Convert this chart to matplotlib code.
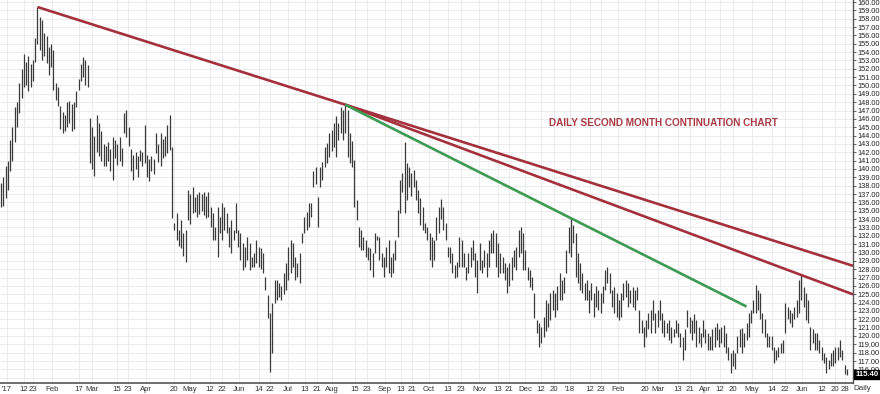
import numpy as np
import matplotlib
matplotlib.use('Agg')
import matplotlib.pyplot as plt
import matplotlib.transforms as mtransforms

# daily bar highs / lows, one per trading day
highs = [
    138.3, 139.0, 140.4, 141.0, 143.5, 145.0, 147.4, 148.0, 150.3, 152.0,
    153.8, 152.8, 153.5, 152.6, 153.0, 155.7, 159.4, 158.2, 157.8, 156.3,
    155.9, 154.6, 155.0, 154.3, 150.3, 149.8, 147.5, 146.8, 146.5, 148.0,
    148.2, 147.8, 148.0, 149.3, 150.8, 152.6, 153.4, 153.0, 152.5, 146.1,
    145.0, 144.0, 146.5, 145.5, 144.5, 143.0, 142.8, 143.2, 142.4, 143.8,
    143.5, 143.0, 143.8, 142.5, 146.7, 147.1, 145.0, 142.4, 141.7, 142.0,
    141.6, 142.3, 142.0, 145.3, 141.7, 141.2, 141.6, 141.2, 144.3, 143.0,
    144.3, 143.6, 143.9, 145.3, 146.5, 142.6, 133.5, 134.7, 132.7, 133.9,
    132.3, 132.7, 137.5, 137.0, 137.8, 136.7, 137.0, 137.2, 137.0, 137.2,
    136.8, 137.2, 135.5, 134.7, 133.1, 135.5, 134.3, 135.9, 135.5, 134.7,
    133.1, 133.9, 132.7, 135.9, 132.7, 132.3, 131.1, 130.7, 131.9, 131.1,
    129.5, 129.9, 131.5, 130.7, 130.5, 129.9, 127.1, 124.9, 122.8, 124.0,
    126.7, 126.7, 126.3, 126.0, 127.5, 128.7, 130.7, 131.5, 131.1, 129.5,
    128.7, 129.9, 132.3, 134.3, 134.8, 135.9, 135.9, 139.8, 140.2, 136.7,
    140.2, 140.8, 142.6, 143.1, 144.3, 144.7, 145.5, 146.3, 145.5, 147.4,
    147.1, 147.7, 147.1, 144.3, 143.3, 141.1, 136.3, 133.1, 132.7, 131.9,
    131.5, 130.7, 130.5, 129.9, 132.3, 132.0, 131.9, 129.9, 129.5, 130.7,
    131.5, 129.5, 129.9, 131.5, 135.1, 138.7, 139.5, 143.2, 140.7, 140.2,
    139.5, 139.9, 138.7, 137.5, 136.5, 135.5, 133.5, 133.1, 132.3, 131.9,
    131.5, 134.3, 135.5, 136.4, 135.5, 133.5, 130.7, 130.7, 129.9, 128.5,
    128.9, 131.9, 131.5, 129.9, 128.3, 129.9, 130.7, 131.5, 129.9, 129.1,
    131.1, 129.1, 130.3, 129.9, 131.5, 132.3, 132.7, 132.3, 131.1, 129.9,
    129.5, 128.7, 128.3, 128.7, 129.5, 130.3, 130.7, 132.7, 133.1, 132.3,
    130.3, 128.3, 127.9, 127.1, 125.2, 121.9, 121.6, 121.1, 122.3, 124.3,
    124.0, 125.2, 125.5, 125.2, 126.0, 127.5, 126.7, 127.1, 130.3, 133.1,
    134.1, 133.3, 132.3, 129.9, 128.7, 127.5, 126.3, 126.7, 125.5, 126.3,
    125.2, 126.0, 125.5, 125.2, 126.0, 127.9, 128.3, 127.5, 125.5, 125.9,
    125.2, 124.3, 125.2, 126.3, 126.7, 126.3, 125.5, 125.9, 125.5, 125.9,
    123.1, 121.9, 121.1, 121.9, 122.8, 123.1, 124.3, 122.8, 123.1, 124.3,
    122.8, 121.9, 121.6, 121.9, 121.1, 120.8, 121.9, 121.5, 120.4, 119.9,
    120.8, 123.1, 122.3, 121.9, 122.6, 121.9, 121.1, 120.4, 121.9, 120.8,
    120.4, 120.0, 120.8, 121.1, 121.6, 120.8, 121.1, 121.3, 120.4, 118.7,
    118.0, 118.3, 118.0, 120.0, 120.8, 121.0, 120.4, 121.5, 122.8, 123.1,
    124.3, 126.1, 125.5, 125.2, 122.8, 122.0, 120.4, 120.0, 120.0, 118.7,
    118.3, 118.7, 119.2, 119.5, 124.0, 123.5, 123.1, 122.8, 123.5, 124.3,
    126.7, 127.3, 125.9, 125.2, 124.3, 121.1, 120.8, 120.4, 120.4, 119.5,
    118.7, 118.0, 117.5, 117.1, 118.0, 118.3, 118.7, 118.7, 119.5, 118.3,
    116.5, 116.0,
]

lows = [
    135.4, 135.6, 136.5, 137.5, 139.8, 141.0, 143.2, 145.0, 146.7, 148.5,
    149.8, 150.0, 149.4, 149.8, 150.5, 152.8, 155.0, 154.3, 153.1, 153.5,
    152.7, 151.3, 152.2, 149.5, 148.3, 147.5, 144.8, 144.3, 144.5, 145.0,
    145.5, 144.6, 144.8, 147.4, 149.5, 150.5, 151.0, 150.0, 149.8, 140.7,
    140.0, 139.2, 142.0, 141.5, 141.0, 140.3, 140.3, 141.0, 139.8, 138.7,
    141.3, 140.5, 141.0, 140.3, 144.3, 143.8, 142.8, 139.8, 138.7, 140.0,
    139.0, 141.0, 140.3, 140.7, 139.0, 138.6, 139.8, 139.4, 141.9, 140.8,
    140.3, 141.3, 141.5, 141.9, 142.3, 134.1, 132.7, 131.5, 130.8, 130.5,
    129.6, 128.9, 133.9, 133.4, 134.7, 134.9, 134.3, 134.6, 135.0, 134.5,
    134.1, 134.3, 133.1, 131.5, 131.5, 129.5, 132.3, 131.5, 132.7, 132.3,
    130.7, 129.9, 131.5, 132.3, 130.7, 129.1, 127.9, 128.3, 129.1, 127.9,
    128.3, 128.3, 128.7, 128.3, 128.0, 127.5, 125.5, 122.2, 115.7, 118.0,
    124.0, 124.3, 124.7, 124.3, 125.0, 125.5, 126.7, 127.5, 128.3, 126.7,
    127.1, 126.3, 131.1, 132.3, 132.7, 133.1, 134.3, 137.8, 138.2, 133.1,
    137.8, 138.7, 140.2, 140.7, 141.4, 142.2, 142.6, 141.4, 143.5, 144.3,
    143.5, 144.3, 141.4, 140.7, 140.2, 135.5, 133.9, 130.7, 130.3, 130.3,
    129.5, 129.1, 127.9, 127.1, 129.9, 131.5, 129.1, 128.3, 127.1, 128.3,
    127.5, 127.1, 127.5, 129.1, 131.9, 134.7, 137.3, 134.7, 136.3, 137.8,
    136.8, 137.8, 136.3, 134.7, 133.3, 132.7, 132.3, 131.5, 129.1, 128.3,
    129.1, 131.5, 132.3, 134.0, 132.7, 131.5, 129.5, 128.7, 127.5, 126.9,
    127.1, 128.3, 128.3, 128.3, 126.7, 127.5, 128.3, 129.1, 127.1, 125.2,
    127.9, 127.5, 128.3, 127.1, 128.3, 129.9, 129.9, 128.3, 127.1, 127.5,
    127.5, 126.7, 125.2, 126.0, 126.7, 128.3, 127.9, 129.5, 129.9, 127.9,
    127.9, 126.7, 125.9, 125.5, 122.2, 120.4, 118.7, 119.1, 119.9, 120.6,
    121.1, 121.9, 123.1, 122.3, 123.1, 124.3, 124.3, 125.2, 127.5, 129.9,
    129.5, 131.1, 127.1, 126.3, 125.5, 125.2, 124.3, 124.3, 122.8, 124.3,
    122.3, 123.5, 123.1, 122.8, 124.0, 125.5, 126.3, 125.2, 123.5, 122.8,
    122.3, 121.9, 122.3, 124.3, 124.7, 123.5, 123.9, 123.5, 123.1, 124.3,
    120.4, 120.4, 118.7, 119.9, 120.8, 120.4, 121.9, 120.4, 121.1, 121.9,
    120.4, 119.9, 120.4, 119.5, 119.2, 119.9, 120.4, 119.9, 118.7, 117.1,
    118.3, 121.1, 120.4, 119.5, 120.4, 118.7, 119.2, 118.7, 119.9, 119.2,
    118.3, 118.3, 118.3, 118.7, 119.5, 118.7, 119.2, 118.7, 117.9, 117.1,
    115.6, 116.4, 116.0, 118.0, 118.7, 118.0, 118.7, 119.5, 119.9, 121.6,
    122.8, 122.8, 123.1, 122.0, 120.4, 119.9, 118.7, 118.7, 118.3, 116.8,
    117.1, 117.5, 117.9, 117.9, 120.4, 122.0, 121.6, 121.1, 122.0, 122.3,
    122.8, 124.3, 123.5, 121.9, 121.5, 118.3, 119.2, 118.3, 118.3, 118.0,
    117.1, 116.8, 115.6, 116.0, 116.4, 116.4, 116.8, 117.1, 117.5, 117.1,
    115.5, 115.3,
]

last_price = 115.40

# date labels along the bottom, placed at trading-day positions
tick_labels = ["'17", '12', '23', 'Feb', '17', 'Mar', '15', '23', 'Apr', '20',
               'May', '12', '22', 'Jun', '14', '22', 'Jul', '13', '21', 'Aug',
               '15', '23', 'Sep', '13', '21', 'Oct', '13', '23', 'Nov', '13',
               '21', 'Dec', '12', '20', "'18", '12', '23', 'Feb', '20', 'Mar',
               '13', '21', 'Apr', '12', '20', 'May', '14', '22', 'Jun', '12',
               '20', '28']
tick_days = [2.6, 10.1, 14.0, 22.4, 34.2, 39.9, 50.9, 55.7, 63.6, 75.9,
             82.9, 91.7, 96.9, 104.4, 113.2, 118.0, 125.9, 133.3, 138.6, 145.2,
             155.3, 160.5, 168.4, 175.4, 180.3, 187.7, 196.1, 201.8, 209.6, 218.0,
             222.8, 229.8, 236.8, 242.5, 249.6, 258.3, 263.2, 270.6, 282.5, 288.2,
             296.9, 302.2, 308.8, 315.4, 321.1, 329.4, 338.2, 343.9, 351.3, 360.1,
             365.8, 370.2]

# trend lines drawn through pairs of swing highs (bar indices)
trend_from = [16, 151, 151]
trend_through = [151, 351, 250]
trend_end = [None, None, 327]
trend_colors = ['#a3303c', '#a3303c', '#3c9a52']


def draw_bars(ax):
    """Draws the daily high-low bars."""
    days = np.arange(len(highs))
    ax.vlines(days, lows, highs, colors='#3a3a3a', linewidth=0.9)


def draw_trend_lines(ax, x_right):
    """Draws each trend line from its first swing high through the second one."""
    hi = np.array(highs)
    for start, through, end, color in zip(trend_from, trend_through, trend_end, trend_colors):
        slope = (hi[through] - hi[start]) / (through - start)
        stop = x_right if end is None else end
        xs = np.array([start, stop])
        ax.plot(xs, hi[start] + slope * (xs - start), color=color,
                linewidth=1.9, solid_capstyle='butt')


def main():

    plt.rcParams['font.family'] = ['Liberation Sans', 'DejaVu Sans']

    fig = plt.figure(figsize=(8.8, 3.94), dpi=100)
    ax = fig.add_axes([0.0, 0.028, 0.9693, 0.972])

    x_left, x_right = -0.44, 373.7
    ax.set_xlim(x_left, x_right)
    ax.set_ylim(114.37, 160.24)

    ax.set_yticks(np.arange(115, 161, 1.0))
    ax.set_yticklabels(['%.2f' % v for v in np.arange(115, 161, 1.0)])
    ax.yaxis.tick_right()
    ax.tick_params(axis='y', length=2, width=0.5, pad=1.5, labelsize=5.3,
                   colors='#222222')

    ax.set_xticks(tick_days)
    ax.set_xticklabels(tick_labels)
    ax.tick_params(axis='x', length=0, pad=2.5, labelsize=5.6, colors='#333333')

    ax.grid(True, color='#e8e8e8', linewidth=0.6)
    ax.set_axisbelow(True)

    for side in ['top', 'left']:
        ax.spines[side].set_visible(False)
    ax.spines['right'].set_color('#555555')
    ax.spines['bottom'].set_color('#555555')
    ax.spines['right'].set_linewidth(1.0)
    ax.spines['bottom'].set_linewidth(1.2)

    draw_bars(ax)
    draw_trend_lines(ax, x_right)

    ax.text(0.778, 0.679, 'DAILY SECOND MONTH CONTINUATION CHART',
            transform=ax.transAxes, ha='center', va='center',
            fontsize=7.2, fontweight='bold', color='#a83a46')

    # last price box on the price scale
    trans = mtransforms.blended_transform_factory(ax.transAxes, ax.transData)
    ax.text(1.003, last_price, '%.2f' % last_price, transform=trans,
            ha='left', va='center', fontsize=5.6, fontweight='bold',
            color='white', clip_on=False,
            bbox=dict(boxstyle='square,pad=0.15', facecolor='black',
                      edgecolor='black'))

    fig.text(0.98, 0.015, 'Daily', ha='center', va='center',
             fontsize=5.8, color='#333333')

    fig.savefig('out.png', dpi=100)


if __name__ == '__main__':
    main()
